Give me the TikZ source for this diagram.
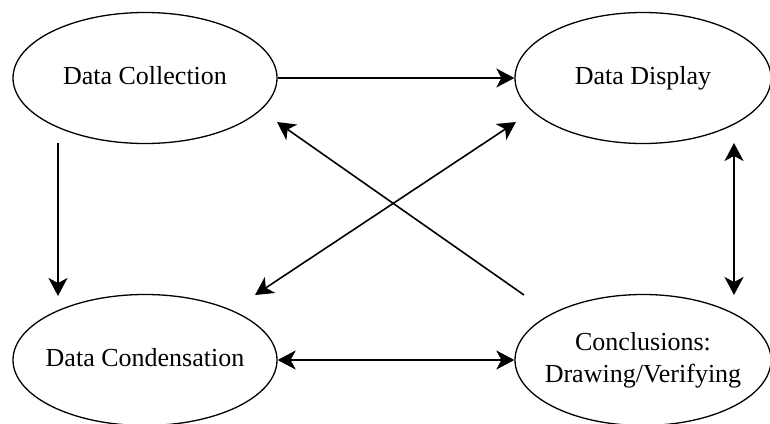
\documentclass[tikz,border=0pt]{standalone}
\usepackage{fontspec}
\setmainfont{Liberation Serif}
\usetikzlibrary{shapes.geometric,arrows.meta}
\newcommand{\ovaltext}[1]{\makebox[0pt]{\begin{tabular}{@{}c@{}}#1\end{tabular}}}
\begin{document}
\begin{tikzpicture}[x=1pt,y=-1pt,
  oval/.style={draw,ellipse,line width=1.3pt,minimum width=264pt,minimum height=131pt,inner sep=0pt,
    font=\fontsize{26}{32}\selectfont},
  arr/.style={line width=1.6pt,-{Stealth[length=18pt,width=19pt,inset=5pt]}},
  darr/.style={line width=1.6pt,{Stealth[length=18pt,width=19pt,inset=5pt]}-{Stealth[length=18pt,width=19pt,inset=5pt]}}]
\useasboundingbox (0,0) rectangle (770,423);
\node[oval] (dc) at (145,78) {\ovaltext{Data Collection}};
\node[oval,minimum width=256pt] (dd) at (643,78) {\ovaltext{Data Display}};
\node[oval] (dn) at (145,360) {\ovaltext{Data Condensation}};
\node[oval,minimum width=256pt] (cv) at (643,360) {\ovaltext{Conclusions:\\Drawing/Verifying}};
\coordinate (a1) at (58,143);
\coordinate (a2) at (58,296);
\coordinate (b1) at (734,143);
\coordinate (b2) at (734,295);
\coordinate (c1) at (516,122);
\coordinate (c2) at (255,295);
\coordinate (d1) at (524,295);
\coordinate (d2) at (277,122);
\draw[arr] (dc.east) -- (dd.west);
\draw[arr] (a1) -- (a2);
\draw[darr] (dn.east) -- (cv.west);
\draw[darr] (b1) -- (b2);
\draw[darr] (c1) -- (c2);
\draw[arr] (d1) -- (d2);
\end{tikzpicture}
\end{document}
